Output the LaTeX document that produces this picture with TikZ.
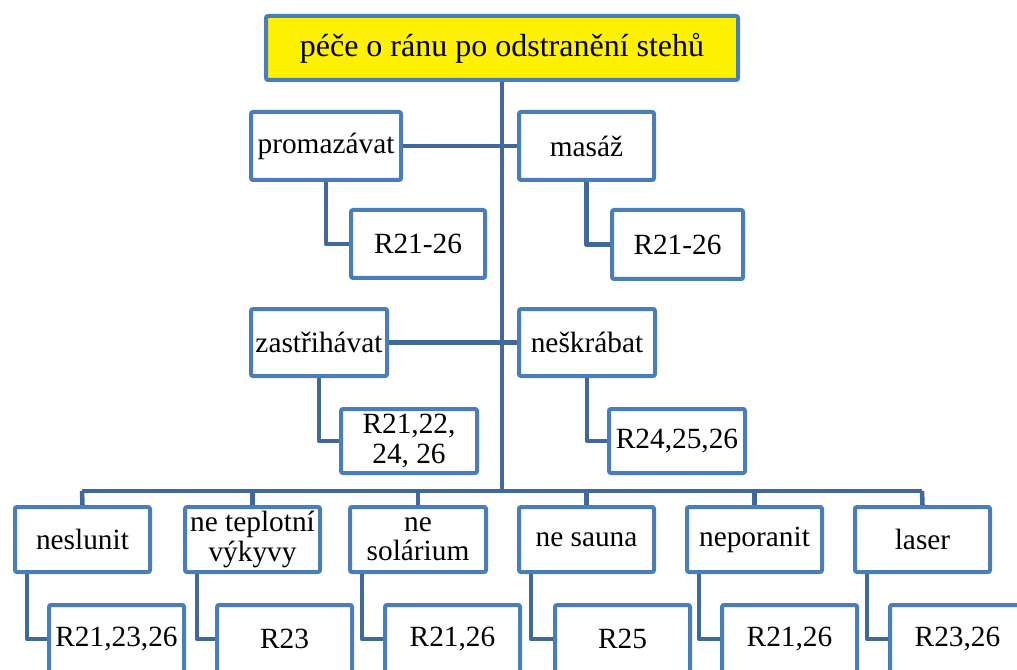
\documentclass[tikz,border=0pt]{standalone}
\usepackage{fontspec}
\setmainfont{Liberation Serif}
\usetikzlibrary{calc}
\definecolor{boxline}{HTML}{4A7EBB}
\definecolor{linkline}{HTML}{41689C}
\tikzset{
  box/.style={draw=boxline, line width=3pt, fill=white, rounded corners=1.5pt,
    inner sep=0pt, align=center, font=\fontsize{22}{22}\selectfont},
  titlebox/.style={box, fill=yellow, font=\fontsize{24}{24}\selectfont},
  link/.style={draw=linkline, line width=3.4pt, line join=round},
}
% \mkbox[style]{name}{x1}{y1}{x2}{y2}{text}: box given by its outer corners
\newcommand\mkbox[7][box]{\node[#1, minimum width={(#5-#3-4)*0.75pt},
  minimum height={(#6-#4-4)*0.75pt}] (#2) at ({(#3+#5)/2},{(#4+#6)/2}) {#7};}
\begin{document}
\begin{tikzpicture}[x=0.75pt, y=-0.75pt]
\useasboundingbox (0,0) rectangle (1017,670);
\clip (0,0) rectangle (1017,670);

% junction of the trunk with the lower bar, and the bar's ends
\coordinate (bar) at (502,491);
\coordinate (barL) at (82,491);
\coordinate (barR) at (922,491);

% lower bar (drawn first, boxes cover the ends)
\draw[link] (barL) -- (barR);

% title
\mkbox[titlebox]{root}{264}{14}{740}{82}{péče o ránu po odstranění stehů}

% upper pairs
\mkbox{proma}{249}{110}{403}{182}{promazávat}
\mkbox{masaz}{517}{110}{656}{182}{masáž}
\mkbox{rproma}{349}{208}{487}{280}{R21-26}
\mkbox{rmasaz}{610}{208}{745}{281}{R21-26}

\mkbox{zastr}{249}{307}{389}{378}{zastřihávat}
\mkbox{neskr}{517}{307}{657}{378}{neškrábat}
\mkbox{rzastr}{339}{407}{479}{475}{R21,22,\\24, 26}
\mkbox{rneskr}{607}{407}{747}{475}{R24,25,26}

% lower row
\mkbox{neslunit}{13}{505}{152}{574}{neslunit}
\mkbox{teplo}{183}{505}{322}{574}{ne teplotní\\výkyvy}
\mkbox{solar}{348}{505}{488}{574}{ne\\solárium}
\mkbox{sauna}{517}{505}{656}{574}{ne sauna}
\mkbox{nepor}{685}{505}{824}{574}{neporanit}
\mkbox{laser}{853}{505}{992}{574}{laser}

\mkbox{rneslunit}{47}{603}{186}{675}{R21,23,26}
\mkbox{rteplo}{215}{603}{354}{675}{R23}
\mkbox{rsolar}{383}{603}{522}{675}{R21,26}
\mkbox{rsauna}{553}{603}{692}{675}{R25}
\mkbox{rnepor}{720}{603}{859}{675}{R21,26}
\mkbox{rlaser}{888}{603}{1027}{675}{R23,26}

% links
\draw[link] (root.south) -- (bar);
\draw[link] (proma.east) -- (masaz.west);
\draw[link] (zastr.east) -- (neskr.west);
\draw[link] (proma.south) |- (rproma.west);
\draw[link] (masaz.south) |- (rmasaz.west);
\draw[link] (zastr.south) |- (rzastr.west);
\draw[link] (neskr.south) |- (rneskr.west);

\draw[link] (neslunit.north) -- (barL);
\draw[link] (laser.north) -- (barR);
\foreach \n in {teplo,solar,sauna,nepor}
  \draw[link] (\n.north) -- (\n.north |- bar);

\foreach \n in {neslunit,teplo,solar,sauna,nepor,laser}
  \draw[link] ($(\n.south west)+(14,0)$) |- (r\n.west);
\end{tikzpicture}
\end{document}
